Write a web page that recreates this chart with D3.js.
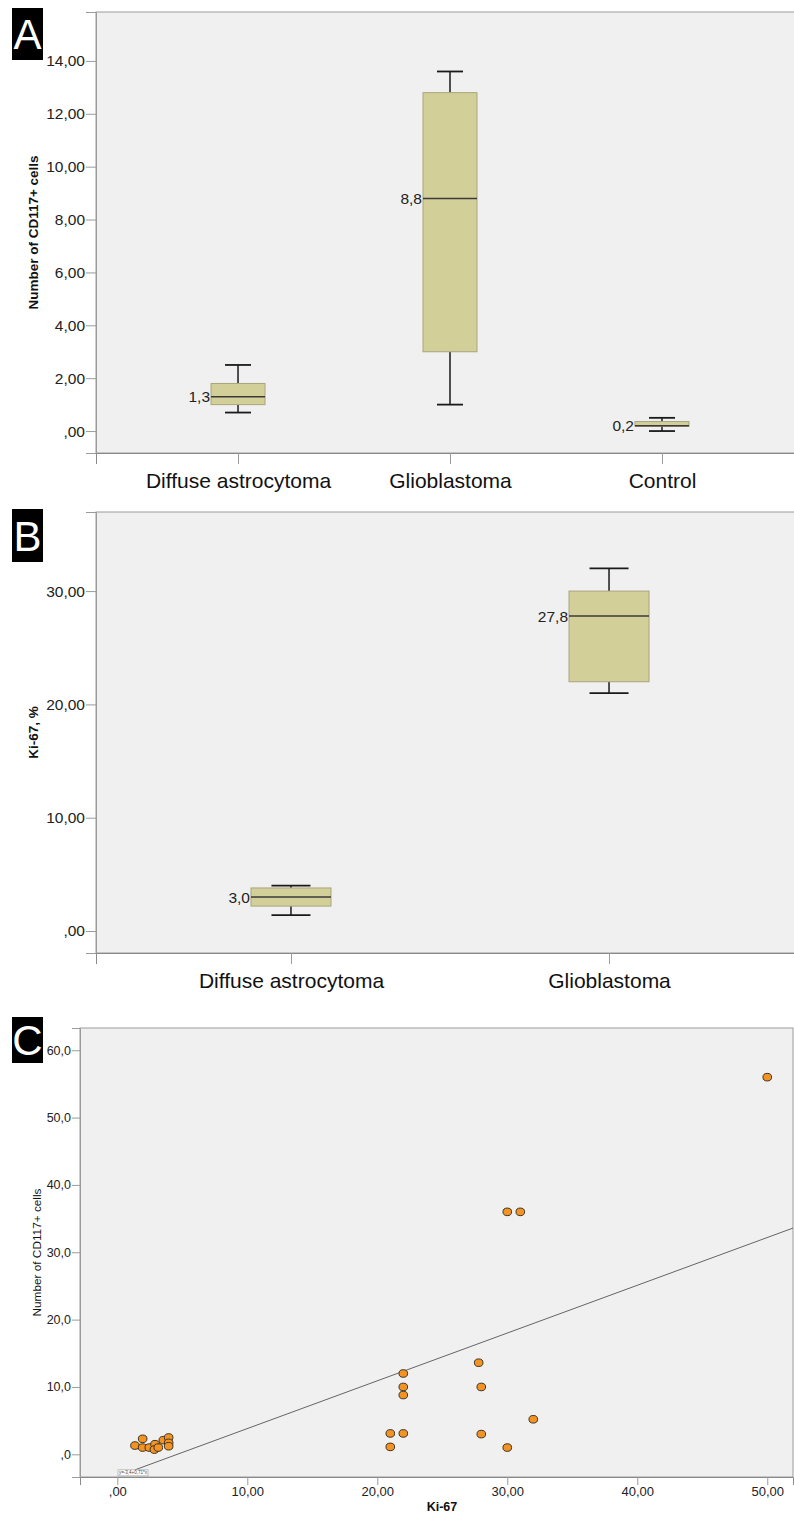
<!DOCTYPE html>
<html><head><meta charset="utf-8">
<script src="https://cdn.jsdelivr.net/npm/d3@7"></script>
<style>
body{margin:0;background:#fff;}
svg{display:block;font-family:"Liberation Sans",Arial,sans-serif;}
</style></head>
<body>
<svg id="chart" width="794" height="1515"></svg>
<script>
// ---------- Panel A data ----------
const catsA = ["Diffuse astrocytoma","Glioblastoma","Control"];
const minA  = [0.7, 1.0, 0.0];
const q1A   = [1.0, 3.0, 0.18];
const medA  = [1.3, 8.8, 0.2];
const q3A   = [1.8, 12.8, 0.36];
const maxA  = [2.5, 13.6, 0.5];
const medLabelsA = ["1,3","8,8","0,2"];
const ticksA = [0,2,4,6,8,10,12,14];
const tickLabelsA = [",00","2,00","4,00","6,00","8,00","10,00","12,00","14,00"];

// ---------- Panel B data ----------
const catsB = ["Diffuse astrocytoma","Glioblastoma"];
const minB  = [1.4, 21.0];
const q1B   = [2.2, 22.0];
const medB  = [3.0, 27.8];
const q3B   = [3.8, 30.0];
const maxB  = [4.0, 32.0];
const medLabelsB = ["3,0","27,8"];
const ticksB = [0,10,20,30];
const tickLabelsB = [",00","10,00","20,00","30,00"];

// ---------- Panel C data ----------
const ki67 = [1.36,1.95,1.95,2.46,2.9,2.85,3.15,3.54,3.95,3.95,3.95,
              21.0,21.0,22.0,22.0,22.0,22.0,27.8,28.0,28.0,30.0,32.0,30.0,31.0,50.0];
const cd117 = [1.3,2.3,1.0,1.0,1.5,0.7,1.0,2.1,2.5,1.7,1.2,
              3.1,1.1,12.0,10.0,8.8,3.1,13.6,10.0,3.0,1.0,5.2,36.0,36.0,56.0];
const fitLabel = "y=-3,4+0,71*x";
const xticksC = [0,10,20,30,40,50];
const xtickLabelsC = [",00","10,00","20,00","30,00","40,00","50,00"];
const yticksC = [0,10,20,30,40,50,60];
const ytickLabelsC = [",0","10,0","20,0","30,0","40,0","50,0","60,0"];

const svg = d3.select("#chart");
const FONT_GREY = "#222";
const FRAME = "#9b9b9b";
const BG = "#f0f0f0";
const BOXFILL = "#d3cf99";
const BOXSTROKE = "#a9a57c";

function panelLabel(letter, y0, h){
  svg.append("rect").attr("x",12).attr("y",y0).attr("width",31).attr("height",h).attr("fill","#000");
  svg.append("text").attr("x",27.5).attr("y",y0+h/2).attr("dy","0.36em")
    .attr("text-anchor","middle").attr("fill","#fff").attr("font-size",42).text(letter);
}

function boxPanel(opt){
  const {cats,mins,q1s,meds,q3s,maxs,medLabels,ticks,tickLabels,yDomain,top,bottom,left,right,padding,boxW,capW,title} = opt;
  const g = svg.append("g");
  const y = d3.scaleLinear().domain(yDomain).range([bottom,top]);
  const x = d3.scalePoint().domain(cats).range([left,right]).padding(padding);
  g.append("rect").attr("x",left).attr("y",top).attr("width",right-left).attr("height",bottom-top)
    .attr("fill",BG).attr("stroke",FRAME).attr("stroke-width",1);
  const ya = g.append("g").attr("transform",`translate(${left},0)`)
    .call(d3.axisLeft(y).tickValues(ticks).tickFormat((d,i)=>tickLabels[i]).tickSize(10).tickPadding(1));
  ya.select(".domain").attr("stroke",FRAME);
  ya.selectAll(".tick line").attr("stroke",FRAME);
  ya.selectAll(".tick text").attr("font-size",15.5).attr("fill",FONT_GREY).attr("font-family","Liberation Sans, Arial, sans-serif");
  const xa = g.append("g").attr("transform",`translate(0,${bottom})`)
    .call(d3.axisBottom(x).tickSize(11).tickPadding(9));
  xa.select(".domain").attr("stroke","#8a8a8a");
  xa.selectAll(".tick line").attr("stroke",FRAME);
  xa.selectAll(".tick text").attr("font-size",21).attr("fill","#111").attr("font-family","Liberation Sans, Arial, sans-serif");
  g.append("text").attr("transform",`translate(38,${(top+bottom)/2}) rotate(-90)`)
    .attr("text-anchor","middle").attr("font-weight","bold").attr("font-size",13.5).attr("fill","#111").text(title);
  cats.forEach((c,i)=>{
    const cx = x(c);
    g.append("line").attr("x1",cx).attr("x2",cx).attr("y1",y(maxs[i])).attr("y2",y(q3s[i])).attr("stroke","#1a1a1a").attr("stroke-width",1.5);
    g.append("line").attr("x1",cx).attr("x2",cx).attr("y1",y(q1s[i])).attr("y2",y(mins[i])).attr("stroke","#1a1a1a").attr("stroke-width",1.5);
    g.append("line").attr("x1",cx-capW/2).attr("x2",cx+capW/2).attr("y1",y(maxs[i])).attr("y2",y(maxs[i])).attr("stroke","#1a1a1a").attr("stroke-width",1.8);
    g.append("line").attr("x1",cx-capW/2).attr("x2",cx+capW/2).attr("y1",y(mins[i])).attr("y2",y(mins[i])).attr("stroke","#1a1a1a").attr("stroke-width",1.8);
    g.append("rect").attr("x",cx-boxW/2).attr("y",y(q3s[i])).attr("width",boxW).attr("height",Math.max(1,y(q1s[i])-y(q3s[i])))
      .attr("fill",BOXFILL).attr("stroke",BOXSTROKE).attr("stroke-width",1);
    g.append("line").attr("x1",cx-boxW/2).attr("x2",cx+boxW/2).attr("y1",y(meds[i])).attr("y2",y(meds[i])).attr("stroke","#3a3a3a").attr("stroke-width",1.5);
    g.append("text").attr("x",cx-boxW/2-1).attr("y",y(meds[i])).attr("dy","0.36em").attr("text-anchor","end")
      .attr("font-size",15.5).attr("fill",FONT_GREY).text(medLabels[i]);
  });
}

boxPanel({cats:catsA,mins:minA,q1s:q1A,meds:medA,q3s:q3A,maxs:maxA,medLabels:medLabelsA,
  ticks:ticksA,tickLabels:tickLabelsA,yDomain:[-0.83,15.85],top:12,bottom:453,left:96,right:804,
  padding:0.67,boxW:54,capW:26,title:"Number of CD117+ cells"});
panelLabel("A",8,52);

boxPanel({cats:catsB,mins:minB,q1s:q1B,meds:medB,q3s:q3B,maxs:maxB,medLabels:medLabelsB,
  ticks:ticksB,tickLabels:tickLabelsB,yDomain:[-1.94,36.98],top:512,bottom:953,left:96,right:804,
  padding:0.613,boxW:80,capW:39,title:"Ki-67, %"});
panelLabel("B",509,53);

// ---------- Panel C ----------
(function(){
  const left=80,right=793,top=1028,bottom=1477;
  const g = svg.append("g");
  const x = d3.scaleLinear().domain([-2.87,51.98]).range([left,right]);
  const y = d3.scaleLinear().domain([-3.37,63.3]).range([bottom,top]);
  g.append("rect").attr("x",left).attr("y",top).attr("width",right-left).attr("height",bottom-top)
    .attr("fill",BG).attr("stroke",FRAME).attr("stroke-width",1);
  const ya = g.append("g").attr("transform",`translate(${left},0)`)
    .call(d3.axisLeft(y).tickValues(yticksC).tickFormat((d,i)=>ytickLabelsC[i]).tickSize(8).tickPadding(1));
  ya.select(".domain").attr("stroke",FRAME);
  ya.selectAll(".tick line").attr("stroke",FRAME);
  ya.selectAll(".tick text").attr("font-size",12.5).attr("fill",FONT_GREY).attr("font-family","Liberation Sans, Arial, sans-serif");
  const xa = g.append("g").attr("transform",`translate(0,${bottom})`)
    .call(d3.axisBottom(x).tickValues(xticksC).tickFormat((d,i)=>xtickLabelsC[i]).tickSize(8).tickPadding(2));
  xa.select(".domain").attr("stroke","#8a8a8a");
  xa.selectAll(".tick line").attr("stroke",FRAME);
  xa.selectAll(".tick text").attr("font-size",13).attr("fill",FONT_GREY).attr("font-family","Liberation Sans, Arial, sans-serif");
  g.append("text").attr("x",442).attr("y",1511).attr("text-anchor","middle")
    .attr("font-weight","bold").attr("font-size",12.5).attr("fill","#111").text("Ki-67");
  g.append("text").attr("transform",`translate(41,${(top+bottom)/2}) rotate(-90)`)
    .attr("text-anchor","middle").attr("font-size",11.8).attr("fill","#111").text("Number of CD117+ cells");
  // least-squares fit line from the data
  const mx = d3.mean(ki67), my = d3.mean(cd117);
  const sxy = d3.sum(ki67,(d,i)=>(d-mx)*(cd117[i]-my));
  const sxx = d3.sum(ki67,(d)=>(d-mx)*(d-mx));
  const fitSlope = sxy/sxx, fitIntercept = my - fitSlope*mx;
  const x0 = d3.min(ki67), x1 = x.domain()[1];
  g.append("line").attr("x1",x(x0)).attr("y1",y(fitIntercept+fitSlope*x0))
    .attr("x2",x(x1)).attr("y2",y(fitIntercept+fitSlope*x1)).attr("stroke","#555").attr("stroke-width",0.9);
  const lb = g.append("g").attr("transform",`translate(${x(x0)-17},${y(fitIntercept+fitSlope*x0)})`);
  lb.append("rect").attr("width",30).attr("height",6).attr("fill","#fff").attr("stroke","#999").attr("stroke-width",0.6);
  lb.append("text").attr("x",15).attr("y",4.6).attr("text-anchor","middle").attr("font-size",4.5).attr("fill","#444").text(fitLabel);
  g.selectAll("ellipse.pt").data(ki67).join("ellipse").attr("class","pt")
    .attr("cx",(d)=>x(d)).attr("cy",(d,i)=>y(cd117[i])).attr("rx",4.3).attr("ry",3.8)
    .attr("fill","#f39322").attr("stroke","#3d3223").attr("stroke-width",1);
})();
panelLabel("C",1017,46);
</script>
</body></html>
